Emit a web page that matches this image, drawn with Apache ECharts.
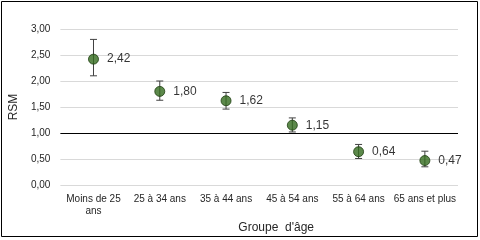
<!DOCTYPE html>
<html><head><meta charset="utf-8">
<script src="https://cdn.jsdelivr.net/npm/echarts@6/dist/echarts.min.js"></script>
<style>html,body{margin:0;padding:0;background:#fff}#c{width:480px;height:240px}</style>
</head><body><div id="c"></div>
<script>
const categories = ['Moins de 25\nans', '25 à 34 ans', '35 à 44 ans', '45 à 54 ans', '55 à 64 ans', '65 ans et plus'];
const values = [2.42, 1.80, 1.62, 1.15, 0.64, 0.47];
const lowValues = [2.10, 1.63, 1.46, 1.02, 0.51, 0.35];
const highValues = [2.80, 2.00, 1.78, 1.29, 0.78, 0.65];
const yTicks = [0, 0.5, 1, 1.5, 2, 2.5, 3];

const chart = echarts.init(document.getElementById('c'), null, {renderer: 'canvas'});
const fmt = v => v.toFixed(2).replace('.', ',');
const font = 'Arial, "Liberation Sans", sans-serif';
chart.setOption({
  animation: false,
  backgroundColor: '#fff',
  grid: {left: 58, right: 22, top: 29, bottom: 55},
  graphic: [{type: 'rect', shape: {x: 1.5, y: 1.5, width: 476, height: 235}, style: {fill: 'none', stroke: '#000', lineWidth: 1}}],
  xAxis: {
    type: 'category', data: categories,
    axisLine: {show: false}, axisTick: {show: false},
    axisLabel: {color: '#262626', fontSize: 10, fontFamily: font, margin: 8, lineHeight: 12, interval: 0},
    name: 'Groupe  d\'âge', nameLocation: 'middle', nameGap: 33,
    nameTextStyle: {color: '#262626', fontSize: 12, fontFamily: font, padding: [0, 0, 0, 34]}
  },
  yAxis: {
    type: 'value', min: yTicks[0], max: yTicks[yTicks.length - 1], interval: 0.5,
    axisLine: {show: false}, axisTick: {show: false},
    axisLabel: {color: '#262626', fontSize: 10, fontFamily: font, margin: 10, formatter: v => fmt(v)},
    splitLine: {lineStyle: {color: yTicks.map(t => t === 1 ? '#000000' : '#d9d9d9'), width: 1}},
    name: 'RSM', nameLocation: 'middle', nameGap: 40,
    nameTextStyle: {color: '#262626', fontSize: 12, fontFamily: font}
  },
  series: [
    {
      type: 'custom',
      data: values.map((v, i) => [i, lowValues[i], highValues[i]]),
      renderItem: (params, api) => {
        const lo = api.coord([api.value(0), api.value(1)]);
        const hi = api.coord([api.value(0), api.value(2)]);
        const c = 3.5;
        const st = {stroke: '#404040', lineWidth: 1};
        return {type: 'group', children: [
          {type: 'line', shape: {x1: lo[0], y1: lo[1], x2: hi[0], y2: hi[1]}, style: st},
          {type: 'line', shape: {x1: lo[0] - c, y1: lo[1], x2: lo[0] + c, y2: lo[1]}, style: st},
          {type: 'line', shape: {x1: hi[0] - c, y1: hi[1], x2: hi[0] + c, y2: hi[1]}, style: st}
        ]};
      },
      z: 2
    },
    {
      type: 'scatter', data: values, symbol: 'circle', symbolSize: 10,
      itemStyle: {color: '#336b1e', borderColor: '#1e3d10', borderWidth: 1},
      label: {show: true, position: 'right', distance: 8, color: '#000000', fontSize: 12, fontFamily: font, formatter: p => fmt(p.value)},
      z: 3
    }
  ]
});
</script></body></html>
